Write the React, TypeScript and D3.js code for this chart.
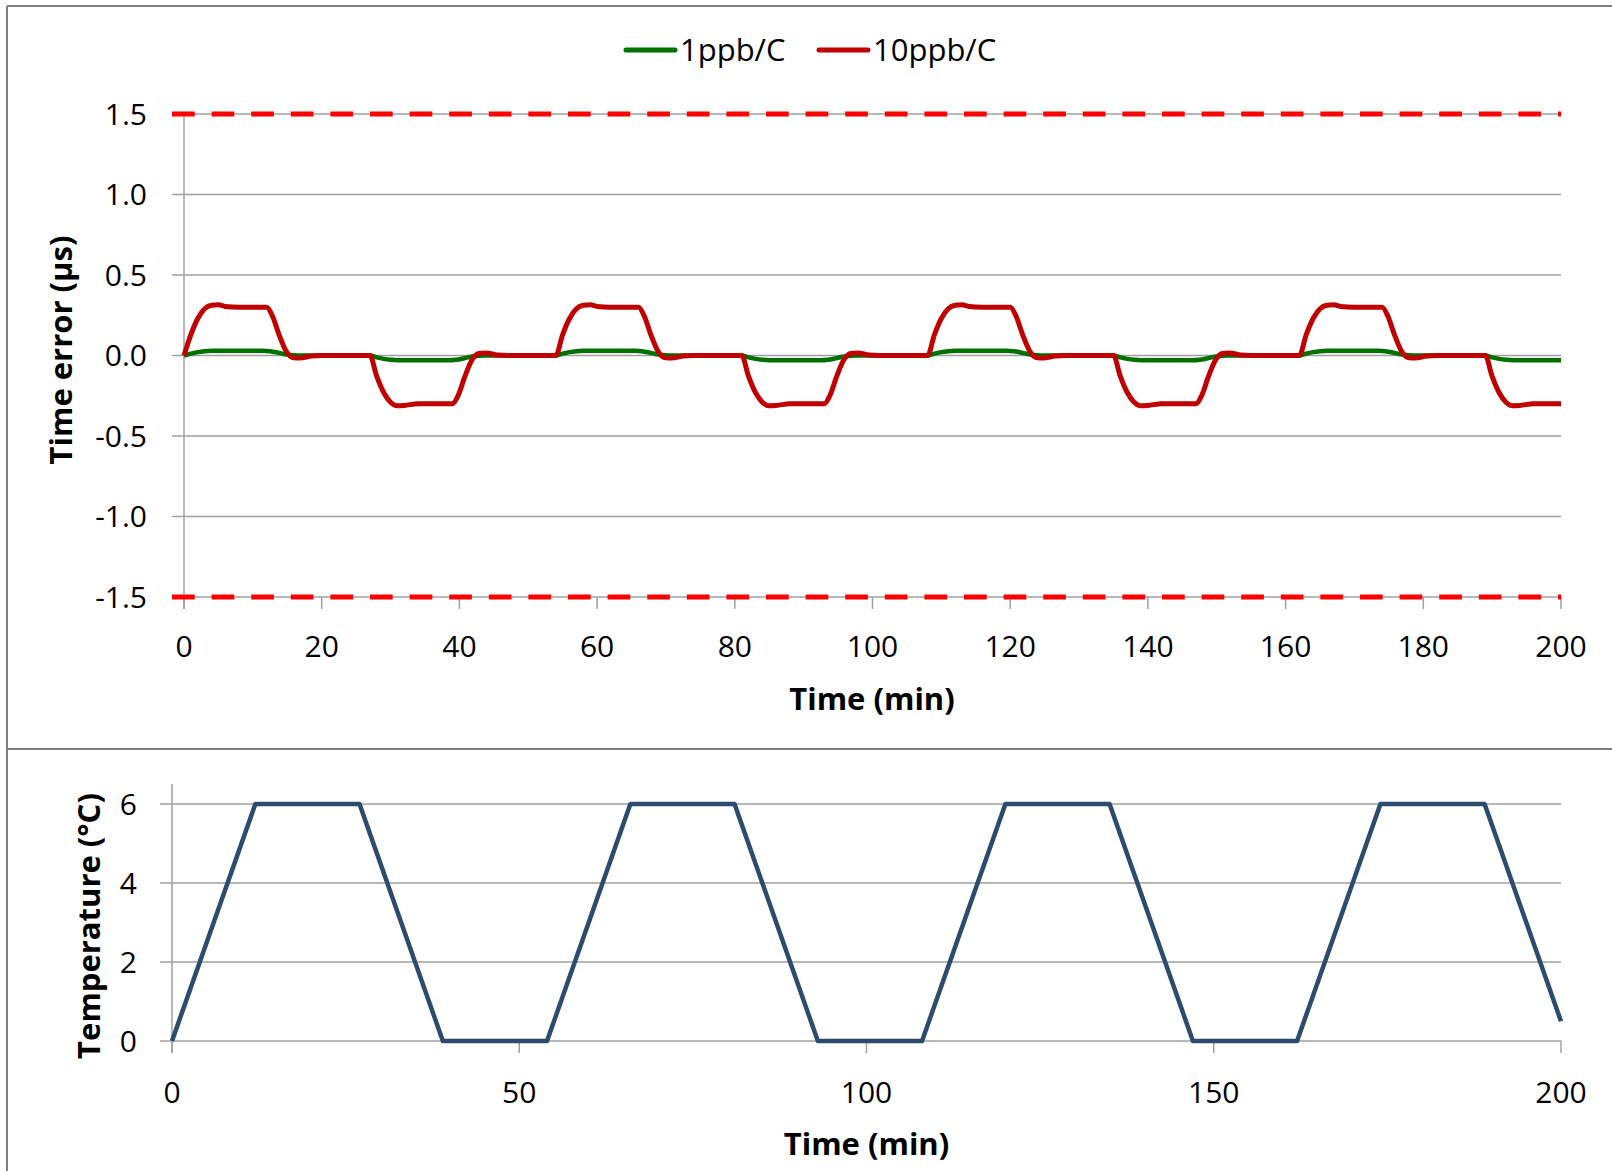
import * as d3 from 'd3'

// Time error series (µs) vs time (min)
const ppb1: [number, number][] = [
  [0, 0], [1, 0.012], [2, 0.021], [3, 0.027], [4, 0.03], [11.5, 0.03], [12.5, 0.027], [13.5, 0.019], [14.5, 0.009], [15.5, 0.003], [16.5, 0],
  [27, 0], [28, -0.012], [29, -0.021], [30, -0.027], [31, -0.03], [38.5, -0.03], [39.5, -0.027], [40.5, -0.019], [41.5, -0.009], [42.5, -0.003], [43.5, 0],
  [54, 0], [55, 0.012], [56, 0.021], [57, 0.027], [58, 0.03], [65.5, 0.03], [66.5, 0.027], [67.5, 0.019], [68.5, 0.009], [69.5, 0.003], [70.5, 0],
  [81, 0], [82, -0.012], [83, -0.021], [84, -0.027], [85, -0.03], [92.5, -0.03], [93.5, -0.027], [94.5, -0.019], [95.5, -0.009], [96.5, -0.003], [97.5, 0],
  [108, 0], [109, 0.012], [110, 0.021], [111, 0.027], [112, 0.03], [119.5, 0.03], [120.5, 0.027], [121.5, 0.019], [122.5, 0.009], [123.5, 0.003], [124.5, 0],
  [135, 0], [136, -0.012], [137, -0.021], [138, -0.027], [139, -0.03], [146.5, -0.03], [147.5, -0.027], [148.5, -0.019], [149.5, -0.009], [150.5, -0.003], [151.5, 0],
  [162, 0], [163, 0.012], [164, 0.021], [165, 0.027], [166, 0.03], [173.5, 0.03], [174.5, 0.027], [175.5, 0.019], [176.5, 0.009], [177.5, 0.003], [178.5, 0],
  [189, 0], [190, -0.012], [191, -0.021], [192, -0.027], [193, -0.03], [200, -0.03],
]

const ppb10: [number, number][] = [
  [0, 0], [1, 0.13], [2, 0.23], [3, 0.29], [4, 0.312], [5, 0.315], [6, 0.305], [8, 0.3], [12, 0.3], [12.8, 0.25], [13.8, 0.13], [14.8, 0.03], [15.8, -0.012], [16.8, -0.016], [18.5, -0.003], [20, 0],
  [27, 0], [28, -0.13], [29, -0.23], [30, -0.29], [31, -0.312], [32, -0.31], [34, -0.3], [39, -0.3], [39.8, -0.25], [40.8, -0.13], [41.8, -0.03], [42.8, 0.012], [43.8, 0.016], [45.5, 0.003], [47, 0],
  [54, 0], [55, 0.13], [56, 0.23], [57, 0.29], [58, 0.312], [59, 0.315], [60, 0.305], [62, 0.3], [66, 0.3], [66.8, 0.25], [67.8, 0.13], [68.8, 0.03], [69.8, -0.012], [70.8, -0.016], [72.5, -0.003], [74, 0],
  [81, 0], [82, -0.13], [83, -0.23], [84, -0.29], [85, -0.312], [86, -0.31], [88, -0.3], [93, -0.3], [93.8, -0.25], [94.8, -0.13], [95.8, -0.03], [96.8, 0.012], [97.8, 0.016], [99.5, 0.003], [101, 0],
  [108, 0], [109, 0.13], [110, 0.23], [111, 0.29], [112, 0.312], [113, 0.315], [114, 0.305], [116, 0.3], [120, 0.3], [120.8, 0.25], [121.8, 0.13], [122.8, 0.03], [123.8, -0.012], [124.8, -0.016], [126.5, -0.003], [128, 0],
  [135, 0], [136, -0.13], [137, -0.23], [138, -0.29], [139, -0.312], [140, -0.31], [142, -0.3], [147, -0.3], [147.8, -0.25], [148.8, -0.13], [149.8, -0.03], [150.8, 0.012], [151.8, 0.016], [153.5, 0.003], [155, 0],
  [162, 0], [163, 0.13], [164, 0.23], [165, 0.29], [166, 0.312], [167, 0.315], [168, 0.305], [170, 0.3], [174, 0.3], [174.8, 0.25], [175.8, 0.13], [176.8, 0.03], [177.8, -0.012], [178.8, -0.016], [180.5, -0.003], [182, 0],
  [189, 0], [190, -0.13], [191, -0.23], [192, -0.29], [193, -0.312], [194, -0.31], [196, -0.3], [200, -0.3],
]

// Temperature profile (°C)
const tempTimes = [0, 12, 27, 39, 54, 66, 81, 93, 108, 120, 135, 147, 162, 174, 189, 200]
const tempValues = [0, 6, 6, 0, 0, 6, 6, 0, 0, 6, 6, 0, 0, 6, 6, 0.5]

const limits = [1.5, -1.5]
const topYTicks = [1.5, 1.0, 0.5, 0.0, -0.5, -1.0, -1.5]
const topXTicks = [0, 20, 40, 60, 80, 100, 120, 140, 160, 180, 200]
const botYTicks = [0, 2, 4, 6]
const botXTicks = [0, 50, 100, 150, 200]

const legendItems = [
  { label: '1ppb/C', color: '#007000' },
  { label: '10ppb/C', color: '#C00000' },
]

const FONT = "'Open Sans', sans-serif"
const GRID = '#A0A0A0'
const FRAME = '#808080'

export default function App() {
  const W = 1612
  const H = 1171

  // top chart scales
  const xTop = d3.scaleLinear().domain([0, 200]).range([184, 1561])
  const yTop = d3.scaleLinear().domain([-1.5, 1.5]).range([597, 114])
  // bottom chart scales
  const xBot = d3.scaleLinear().domain([0, 200]).range([172, 1561])
  const yBot = d3.scaleLinear().domain([0, 6]).range([1041, 804])

  const errLine = d3.line<[number, number]>()
    .x(d => xTop(d[0]))
    .y(d => yTop(d[1]))
    .curve(d3.curveMonotoneX)

  const tempLine = d3.line<number>()
    .x((_, i) => xBot(tempTimes[i]))
    .y(d => yBot(d))

  const tickLen = 12
  // excel style: plain hyphen for negatives
  const numFmt = (v: number) => v.toFixed(1)

  return (
    <svg width={W} height={H} style={{ position: 'absolute', left: 0, top: 0, background: '#fff' }} fontFamily={FONT}>
      {/* frames */}
      <line x1={7} x2={W} y1={6} y2={6} stroke={FRAME} strokeWidth={2} />
      <line x1={7} x2={7} y1={6} y2={H} stroke={FRAME} strokeWidth={2} />
      <line x1={7} x2={W} y1={749} y2={749} stroke={FRAME} strokeWidth={2} />

      {/* legend */}
      {legendItems.map((d, i) => {
        const x0 = i === 0 ? 626 : 819
        return (
          <g key={d.label}>
            <line x1={x0} x2={x0 + 49} y1={50} y2={50} stroke={d.color} strokeWidth={5} strokeLinecap="round" />
            <text x={x0 + 54} y={61} fontSize={31} fill="#000">{d.label}</text>
          </g>
        )
      })}

      {/* top chart grid */}
      {topYTicks.map(t => (
        <line key={t} x1={172} x2={1561} y1={yTop(t)} y2={yTop(t)} stroke={GRID} strokeWidth={1.5} />
      ))}
      <line x1={xTop(0)} x2={xTop(0)} y1={yTop(1.5)} y2={yTop(-1.5) + tickLen} stroke={GRID} strokeWidth={1.5} />
      {topXTicks.map(t => (
        <line key={t} x1={xTop(t)} x2={xTop(t)} y1={yTop(-1.5)} y2={yTop(-1.5) + tickLen} stroke={GRID} strokeWidth={1.5} />
      ))}

      {/* limit lines */}
      {limits.map(l => (
        <line key={l} x1={172} x2={1561} y1={yTop(l)} y2={yTop(l)} stroke="#FF0000" strokeWidth={5} strokeDasharray="22.7 16.9" />
      ))}

      {/* series */}
      <path d={errLine(ppb1) ?? ''} fill="none" stroke="#007000" strokeWidth={4.5} strokeLinejoin="round" />
      <path d={errLine(ppb10) ?? ''} fill="none" stroke="#C00000" strokeWidth={5} strokeLinejoin="round" />

      {/* top axis labels */}
      {topYTicks.map(t => (
        <text key={t} x={147} y={yTop(t) + 10.7} textAnchor="end" fontSize={30} fill="#000">{numFmt(t)}</text>
      ))}
      {topXTicks.map(t => (
        <text key={t} x={xTop(t)} y={657} textAnchor="middle" fontSize={30} fill="#000">{t}</text>
      ))}
      <text x={872} y={710} textAnchor="middle" fontSize={31} fontWeight="bold" fill="#000">Time (min)</text>
      <text transform="translate(71.7,350) rotate(-90)" textAnchor="middle" fontSize={31} fontWeight="bold" fill="#000">Time error (µs)</text>

      {/* bottom chart grid */}
      {botYTicks.map(t => (
        <line key={t} x1={160} x2={1561} y1={yBot(t)} y2={yBot(t)} stroke={GRID} strokeWidth={1.5} />
      ))}
      <line x1={xBot(0)} x2={xBot(0)} y1={784} y2={yBot(0) + tickLen} stroke={GRID} strokeWidth={1.5} />
      {botXTicks.map(t => (
        <line key={t} x1={xBot(t)} x2={xBot(t)} y1={yBot(0)} y2={yBot(0) + tickLen} stroke={GRID} strokeWidth={1.5} />
      ))}

      <path d={tempLine(tempValues) ?? ''} fill="none" stroke="#2D4B6E" strokeWidth={4.5} strokeLinejoin="round" />

      {botYTicks.map(t => (
        <text key={t} x={137} y={yBot(t) + 10.7} textAnchor="end" fontSize={30} fill="#000">{t}</text>
      ))}
      {botXTicks.map(t => (
        <text key={t} x={xBot(t)} y={1103} textAnchor="middle" fontSize={30} fill="#000">{t}</text>
      ))}
      <text x={866.5} y={1155} textAnchor="middle" fontSize={31} fontWeight="bold" fill="#000">Time (min)</text>
      <text transform="translate(100,926) rotate(-90)" textAnchor="middle" fontSize={31} fontWeight="bold" fill="#000">Temperature (°C)</text>
    </svg>
  )
}
